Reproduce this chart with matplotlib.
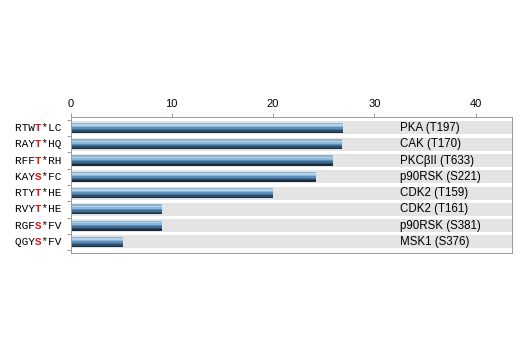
import matplotlib
matplotlib.use("Agg")
import matplotlib.pyplot as plt
import numpy as np

# substrate motifs, split around the phospho-residue
motif_pre = ["RTW", "RAY", "RFF", "KAY", "RTY", "RVY", "RGF", "QGY"]
motif_site = ["T", "T", "T", "S", "T", "T", "S", "S"]
motif_post = ["*LC", "*HQ", "*RH", "*FC", "*HE", "*HE", "*FV", "*FV"]
kinases = ["PKA (T197)", "CAK (T170)", "PKC\u03b2II (T633)", "p90RSK (S221)",
           "CDK2 (T159)", "CDK2 (T161)", "p90RSK (S381)", "MSK1 (S376)"]
scores = [26.9, 26.8, 25.9, 24.2, 20.0, 9.0, 9.0, 5.2]
xticks = [0, 10, 20, 30, 40]

# cylinder shading for the bars, top strip to bottom strip
shade = ["#8fb3cf", "#b4d3e8", "#8cb6d6", "#5f8fb8", "#3f6d96", "#2b4d6e", "#1a2b3c"]

fig = plt.figure(figsize=(5.2, 3.5), dpi=100)
ax = fig.add_axes([0.1356, 0.277, 0.849, 0.389])

rows = np.arange(len(scores))
xmax = 43.6

# grey background bands
ax.barh(rows, xmax, height=0.8, color="#e4e4e4", zorder=1)

bar_h = 0.62
strip = bar_h / len(shade)
for k, c in enumerate(shade):
    off = -bar_h / 2 + strip * (k + 0.5)
    ax.barh(rows + off, scores, height=strip * 1.05, color=c, linewidth=0, zorder=2)

for i, name in enumerate(kinases):
    ax.text(32.5, i, name, va="center", ha="left", fontsize=8.3,
            family="Liberation Sans", zorder=3)

    # motif label: black letters with the red site residue overlaid
    blank = motif_pre[i] + " " + motif_post[i]
    site = " " * len(motif_pre[i]) + motif_site[i] + " " * len(motif_post[i])
    ax.annotate(blank, xy=(0, i), xycoords=("axes fraction", "data"),
                xytext=(-55.5, 0), textcoords="offset pixels",
                va="center", ha="left", fontsize=8, family="Liberation Mono")
    ax.annotate(site, xy=(0, i), xycoords=("axes fraction", "data"),
                xytext=(-55.5, 0), textcoords="offset pixels",
                va="center", ha="left", fontsize=8, family="Liberation Mono",
                color="#e8141c", fontweight="bold")

ax.set_xlim(0, xmax)
ax.set_ylim(len(scores) - 0.32, -0.68)

ax.xaxis.set_ticks_position("top")
ax.set_xticks(xticks)
ax.set_xticklabels([str(t) for t in xticks], fontsize=8, family="Liberation Sans")
ax.tick_params(axis="x", direction="out", length=3, width=0.6, color="#888888", pad=3)

ax.set_yticks(np.arange(len(scores) + 1) - 0.5)
ax.set_yticklabels([])
ax.tick_params(axis="y", direction="out", length=3, width=0.6, color="#888888")

for s in ax.spines.values():
    s.set_color("#9a9a9a")
    s.set_linewidth(0.7)

fig.savefig("out.png", dpi=100)
